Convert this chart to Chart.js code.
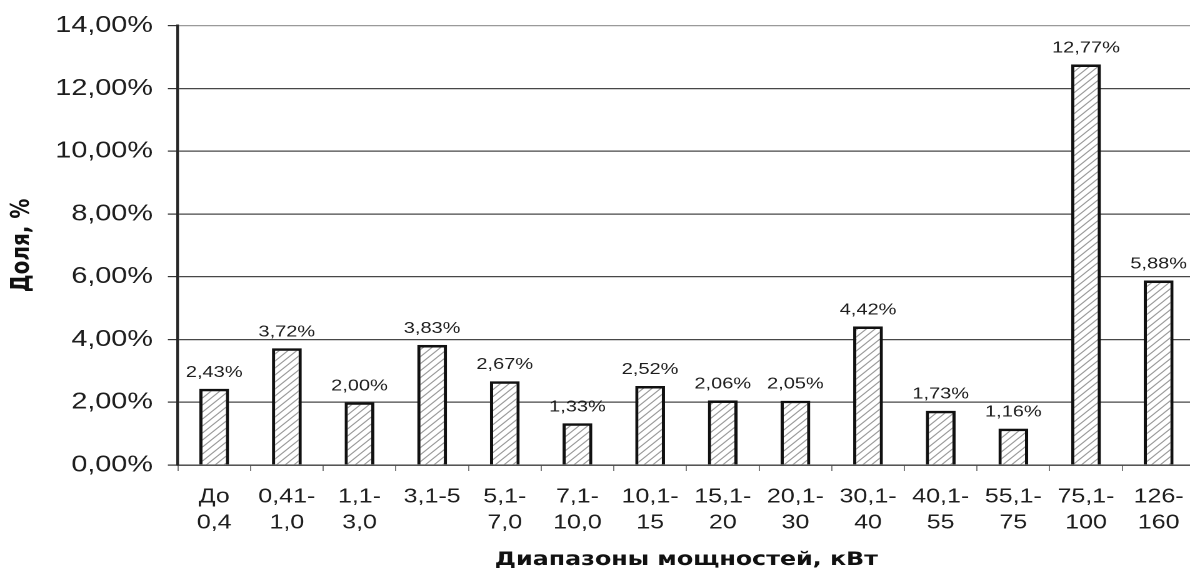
<!DOCTYPE html>
<html lang="ru">
<head>
<meta charset="utf-8">
<script src="https://cdn.jsdelivr.net/npm/chart.js@4.4.1/dist/chart.umd.min.js"></script>
<style>
  html, body { margin: 0; padding: 0; background: #fff; overflow: hidden; width: 1190px; height: 573px; }
  #wrap { position: relative; width: 1190px; height: 573px; overflow: hidden; }
  /* the drawing is widened horizontally, like the printed figure */
  #c { position: absolute; left: 0; top: 0; transform: scaleX(1.25); transform-origin: 0 0; }
</style>
</head>
<body>
<div id="wrap"><canvas id="c" width="960" height="573"></canvas></div>
<script>
// Power ranges, kW (two-line axis labels)
const categories = [
  ["До", "0,4"], ["0,41-", "1,0"], ["1,1-", "3,0"], ["3,1-5"], ["5,1-", "7,0"],
  ["7,1-", "10,0"], ["10,1-", "15"], ["15,1-", "20"], ["20,1-", "30"], ["30,1-", "40"],
  ["40,1-", "55"], ["55,1-", "75"], ["75,1-", "100"], ["126-", "160"]
];
// Share of each range, %
const shares = [2.43, 3.72, 2.00, 3.83, 2.67, 1.33, 2.52, 2.06, 2.05, 4.42, 1.73, 1.16, 12.77, 5.88];
// Value-axis ticks, %
const yTickValues = [0, 2, 4, 6, 8, 10, 12, 14];

const xTitle = 'Диапазоны мощностей, кВт';
const yTitle = 'Доля, %';

const fmt = v => Number(v).toFixed(2).replace('.', ',') + '%';
const SANS = '"Liberation Sans", Arial, Helvetica, sans-serif';
const WIDE_BOLD = '"DejaVu Sans", Verdana, sans-serif';

// diagonal hatch fill for the bars
function hatchPattern() {
  const k = 2, size = 7;
  const t = document.createElement('canvas');
  t.width = t.height = size * k;
  const g = t.getContext('2d');
  g.fillStyle = '#ffffff';
  g.fillRect(0, 0, size * k, size * k);
  g.strokeStyle = '#9a9a9a';
  g.lineWidth = 1.0 * k;
  g.beginPath();
  g.moveTo(-k, (size + 1) * k); g.lineTo((size + 1) * k, -k);
  g.moveTo(-k, k); g.lineTo(k, -k);
  g.moveTo((size - 1) * k, (size + 1) * k); g.lineTo((size + 1) * k, (size - 1) * k);
  g.stroke();
  const p = g.createPattern(t, 'repeat');
  p.setTransform(new DOMMatrix([1 / k, 0, 0, 1 / k, 0, 0]));
  return p;
}

// percentage written above every bar
const valueLabels = {
  id: 'valueLabels',
  afterDatasetsDraw(chart) {
    const { ctx } = chart;
    const meta = chart.getDatasetMeta(0);
    ctx.save();
    ctx.font = '16px ' + SANS;
    ctx.fillStyle = '#1e1e1e';
    ctx.textAlign = 'center';
    ctx.textBaseline = 'alphabetic';
    meta.data.forEach((bar, i) => {
      ctx.fillText(fmt(shares[i]), bar.x, bar.y - 12);
    });
    ctx.restore();
  }
};

new Chart(document.getElementById('c'), {
  type: 'bar',
  data: {
    labels: categories,
    datasets: [{
      data: shares,
      backgroundColor: hatchPattern(),
      borderColor: '#111111',
      borderWidth: 2.6,
      borderSkipped: 'bottom',
      categoryPercentage: 1.0,
      barPercentage: 0.41
    }]
  },
  options: {
    responsive: false,
    devicePixelRatio: 2,
    animation: false,
    layout: { padding: { top: 23.3, right: 2, bottom: 0, left: 0 } },
    plugins: {
      legend: { display: false },
      tooltip: { enabled: false }
    },
    scales: {
      x: {
        offset: true,
        grid: {
          display: true, drawOnChartArea: false, drawTicks: true, offset: true,
          tickLength: 6, tickColor: '#7a7a7a', tickWidth: 1
        },
        border: { display: true, color: '#3c3c3c', width: 1.2 },
        ticks: {
          autoSkip: false, maxRotation: 0, minRotation: 0,
          color: '#1e1e1e', padding: 13,
          font: { family: SANS, size: 20, lineHeight: 1.3 }
        },
        title: {
          display: true, text: xTitle, color: '#111',
          font: { family: WIDE_BOLD, size: 19, weight: 'bold' },
          padding: { top: 0, bottom: 1.5 }
        },
        afterFit(scale) { scale.height = 108; }
      },
      y: {
        min: 0, max: 14,
        afterBuildTicks(scale) { scale.ticks = yTickValues.map(v => ({ value: v })); },
        grid: {
          color: c => (c.tick && c.tick.value === 14) ? '#9a9a9a' : '#474747',
          lineWidth: 1.2, drawTicks: true, tickLength: 8, tickColor: '#333', tickWidth: 1.2
        },
        border: { display: true, color: '#262626', width: 2.2 },
        ticks: {
          color: '#1e1e1e', padding: 12,
          font: { family: SANS, size: 23 },
          callback: v => fmt(v)
        },
        title: {
          display: true, text: yTitle, color: '#111',
          font: { family: WIDE_BOLD, size: 20, weight: 'bold' },
          padding: { top: 5.6, bottom: 0 }
        },
        afterFit(scale) { scale.width = 142.3; }
      }
    }
  },
  plugins: [valueLabels]
});
</script>
</body>
</html>
